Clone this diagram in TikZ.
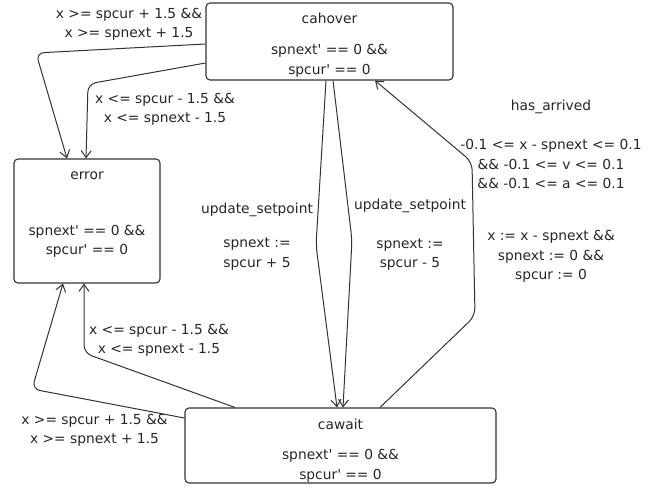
\documentclass[tikz,border=0pt]{standalone}
\usepackage{fontspec}
\setmainfont{DejaVu Sans}
\usetikzlibrary{arrows.meta}
\newcommand\prm{\textquotesingle}
\begin{document}
\begin{tikzpicture}[x=1pt,y=-1pt,
  every node/.style={font=\fontsize{13.8}{19.5}\selectfont, text=black!85},
  state/.style={draw=black!80, line width=1.1pt, rounded corners=4pt, inner sep=0pt},
  txt/.style={align=center, inner sep=0pt},
  conn/.style={draw=black!80, line width=1pt, rounded corners=8pt,
    -{Straight Barb[length=7pt,width=10pt]}}]
  \useasboundingbox (0,0) rectangle (660,487);

  % locations
  \node[state, minimum width=247pt, minimum height=77pt] (cahover) at (329.5,41.5) {};
  \node[state, minimum width=146pt, minimum height=124pt] (error) at (87,221) {};
  \node[state, minimum width=311pt, minimum height=75pt] (cawait) at (340.5,445.5) {};

  % location names and invariants
  \node[txt] (cahover-name) at (329.5,18) {cahover};
  \node[txt] (cahover-inv) at (329.5,61) {spnext\prm{} == 0 \&\&\\spcur\prm{} == 0};
  \node[txt] (error-name) at (87,176) {error};
  \node[txt] (error-inv) at (87,241.5) {spnext\prm{} == 0 \&\&\\spcur\prm{} == 0};
  \node[txt] (cawait-name) at (340.5,424) {cawait};
  \node[txt] (cawait-inv) at (340.5,466) {spnext\prm{} == 0 \&\&\\spcur\prm{} == 0};

  % transitions
  \draw[conn] (cahover.west |- 0,44) -- (36,53) -- (error.north -| 67,0);
  \draw[conn] (cahover.west |- 0,63) -- (88,84) -- (error.north -| 86,0);
  \draw[conn] (cahover.south -| 326,0) -- (316,245) -- (cawait.north -| 337,0);
  \draw[conn] (cahover.south -| 333,0) -- (352,240) -- (cawait.north -| 343,0);
  \draw[conn] (cawait.north -| 380,0) -- (475,316) -- (472,162) -- (cahover.south -| 375,0);
  \draw[conn] (cawait.north -| 235,0) -- (84,353) -- (error.south -| 84,0);
  \draw[conn] (cawait.west |- 0,418) -- (32,389) -- (error.south -| 63,0);

  % guards and updates
  \node[txt] (g-hi-top) at (129,24.5) {x >= spcur + 1.5 \&\&\\x >= spnext + 1.5};
  \node[txt] (g-lo-top) at (165,109.5) {x <= spcur - 1.5 \&\&\\x <= spnext - 1.5};
  \node[txt] (upd-plus) at (257,236.5) {update\_setpoint\\[15pt]spnext :=\\spcur + 5};
  \node[txt] (upd-minus) at (410,235) {update\_setpoint\\[19pt]spnext :=\\spcur - 5};
  \node[txt] (arrived) at (551,191.5) {has\_arrived\\[19.5pt]-0.1 <= x - spnext <= 0.1\\\&\& -0.1 <= v <= 0.1\\\&\& -0.1 <= a <= 0.1\\[32.5pt]x := x - spnext \&\&\\spnext := 0 \&\&\\spcur := 0};
  \node[txt] (g-lo-bot) at (159,340.5) {x <= spcur - 1.5 \&\&\\x <= spnext - 1.5};
  \node[txt] (g-hi-bot) at (94.5,430.5) {x >= spcur + 1.5 \&\&\\x >= spnext + 1.5};
\end{tikzpicture}
\end{document}
